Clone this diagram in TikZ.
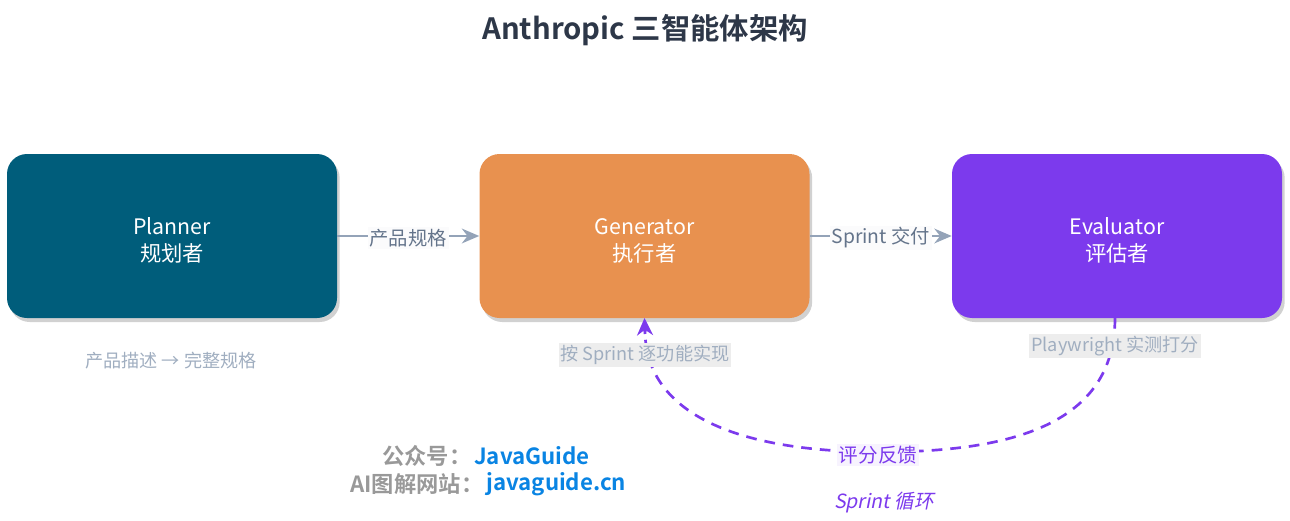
\documentclass[tikz,border=0pt]{standalone}
\usepackage{fontspec}
\setmainfont{Noto Sans CJK SC}[BoldFont={Noto Sans CJK SC Bold}]
\usetikzlibrary{shadows,arrows.meta}
\definecolor{plannerc}{HTML}{005D7B}
\definecolor{genc}{HTML}{E8914F}
\definecolor{evalc}{HTML}{7C3AED}
\definecolor{titlec}{HTML}{2D3748}
\definecolor{linec}{HTML}{94A3B8}
\definecolor{labc}{HTML}{64748B}
\definecolor{notec}{HTML}{A0AEC0}
\definecolor{notebg}{HTML}{EDEDED}
\definecolor{wmgray}{HTML}{999999}
\definecolor{wmblue}{HTML}{0984E3}
\definecolor{purpc}{HTML}{7C3AED}
\newcommand\agenttext[2]{\raisebox{-9.2pt}[0pt][0pt]{\begin{tabular}{@{}c@{}}#1\\#2\end{tabular}}}
\tikzset{
  agent/.style={rounded corners=15pt, minimum width=247.5pt, minimum height=123pt, inner sep=0pt,
    text=white, align=center, font=\fontsize{16}{20.25}\selectfont,
    drop shadow={shadow xshift=2pt, shadow yshift=-3pt, opacity=0.3, fill=black!60}},
  flow/.style={draw=linec, line width=2pt, -{Stealth[length=13pt,width=11pt]}},
  flowlab/.style={fill=white!96!linec, text=labc, font=\fontsize{14.5}{16}\selectfont, inner sep=1.5pt, yshift=-1.5pt},
  note/.style={text=notec, font=\fontsize{13.6}{15}\selectfont, inner sep=1.5pt},
  notebox/.style={note, fill=notebg},
  loop/.style={draw=purpc, line width=2pt, dash pattern=on 8pt off 6pt},
  wm/.style={font=\bfseries\fontsize{16.7}{19}\selectfont},
}
\begin{document}
\begin{tikzpicture}[x=0.75pt,y=-0.75pt]
\useasboundingbox (0,0) rectangle (1290,521);
\node[font=\bfseries\fontsize{22}{26}\selectfont, text=titlec] (title) at (645,30) {Anthropic 三智能体架构};
\node[agent, fill=plannerc] (planner) at (172,236) {\agenttext{Planner}{规划者}};
\node[agent, fill=genc] (gen) at (644.5,236) {\agenttext{Generator}{执行者}};
\node[agent, fill=evalc] (eval) at (1117,236) {\agenttext{Evaluator}{评估者}};
\draw[flow] (planner.east) -- node[flowlab] (l1) {产品规格} (gen.west);
\draw[flow] (gen.east) -- node[flowlab] (l2) {Sprint 交付} (eval.west);
\node[note] (n1) at (171,361) {产品描述 → 完整规格};
\coordinate (gs) at (644.5,318);
\coordinate (es) at (1115,318);
\coordinate (mid) at (880,452);
\draw[loop] (es) .. controls (1115,425) and (1010,452) .. (mid)
  .. controls (730,452) and (645,410) .. (645,330);
\draw[draw=purpc, line width=2pt, -{Stealth[length=13pt,width=12pt]}] (645,334) -- (gs);
\node[notebox] (n2) at (645,355) {按 Sprint 逐功能实现};
\node[notebox] (n3) at (1115,346) {Playwright 实测打分};
\node[fill=white!94!purpc, text=purpc, font=\fontsize{14.7}{16}\selectfont, inner sep=1.5pt] (fb) at (878,455) {评分反馈};
\node[text=purpc, font=\fontsize{14.7}{16}\selectfont] (cyc) at (884,503) {\addfontfeature{FakeSlant=0.2}Sprint 循环};
\node[wm, anchor=east, text=wmgray] (w1) at (476,456) {公众号：};
\node[wm, anchor=west, text=wmblue, inner sep=0pt] (w1b) at (474,456) {JavaGuide};
\node[wm, anchor=east, text=wmgray] (w2) at (488,484) {AI图解网站：};
\node[wm, anchor=west, text=wmblue, inner sep=0pt] (w2b) at (486,484) {javaguide.cn};
\end{tikzpicture}
\end{document}
